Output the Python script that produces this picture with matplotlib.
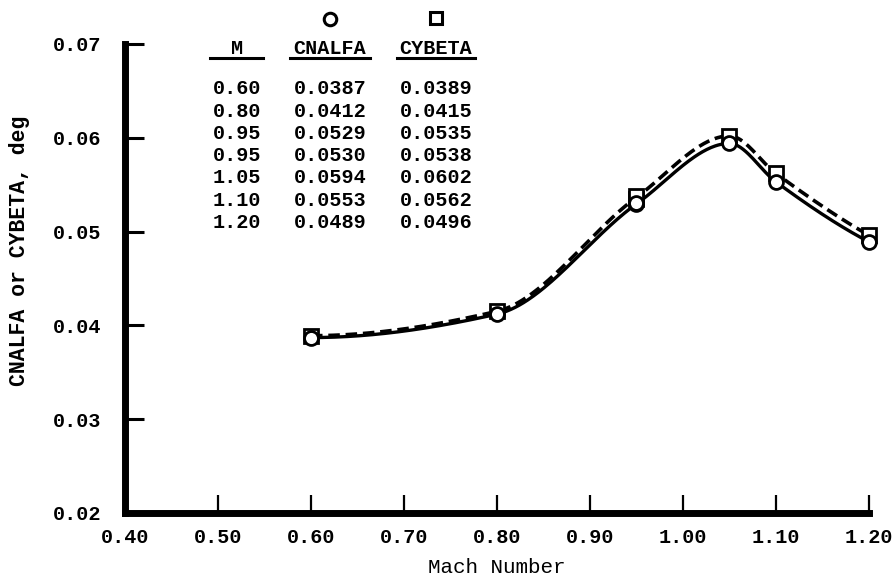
import matplotlib.pyplot as plt
import numpy as np
from matplotlib.lines import Line2D

# Tabulated data
mach = [0.60, 0.80, 0.95, 0.95, 1.05, 1.10, 1.20]
cnalfa = [0.0387, 0.0412, 0.0529, 0.0530, 0.0594, 0.0553, 0.0489]
cybeta = [0.0389, 0.0415, 0.0535, 0.0538, 0.0602, 0.0562, 0.0496]

x_ticks = [0.40, 0.50, 0.60, 0.70, 0.80, 0.90, 1.00, 1.10, 1.20]
y_ticks = [0.02, 0.03, 0.04, 0.05, 0.06, 0.07]


def end_slope(h0, h1, d0, d1):
    m = ((2 * h0 + h1) * d0 - h0 * d1) / (h0 + h1)
    if np.sign(m) != np.sign(d0):
        m = 0.0
    elif np.sign(d0) != np.sign(d1) and abs(m) > abs(3 * d0):
        m = 3 * d0
    return m


def pchip(x, y, n=400):
    # smooth monotone cubic through the measured points (duplicates averaged)
    x = np.asarray(x)
    y = np.asarray(y)
    xs = np.unique(x)
    ys = np.array([y[x == v].mean() for v in xs])
    h = np.diff(xs)
    d = np.diff(ys) / h
    m = np.zeros_like(ys)
    for k in range(1, len(xs) - 1):
        if d[k - 1] * d[k] > 0:
            w1 = 2 * h[k] + h[k - 1]
            w2 = h[k] + 2 * h[k - 1]
            m[k] = (w1 + w2) / (w1 / d[k - 1] + w2 / d[k])
    m[0] = end_slope(h[0], h[1], d[0], d[1])
    m[-1] = end_slope(h[-1], h[-2], d[-1], d[-2])
    xf = np.linspace(xs[0], xs[-1], n)
    idx = np.clip(np.searchsorted(xs, xf) - 1, 0, len(h) - 1)
    t = (xf - xs[idx]) / h[idx]
    h00 = 2 * t**3 - 3 * t**2 + 1
    h10 = t**3 - 2 * t**2 + t
    h01 = -2 * t**3 + 3 * t**2
    h11 = t**3 - t**2
    yf = h00 * ys[idx] + h10 * h[idx] * m[idx] + h01 * ys[idx + 1] + h11 * h[idx] * m[idx + 1]
    return xf, yf


mono = 'Liberation Mono'
fs = 14.5
fig = plt.figure(figsize=(8.94, 5.82), dpi=100)
ax = fig.add_axes([0.1398, 0.1186, 0.8322, 0.8058])

xs, ys = pchip(mach, cybeta)
ax.plot(xs, ys, color='black', lw=2.6, ls=(0, (3.2, 1.6)), clip_on=False)
xs, ys = pchip(mach, cnalfa)
ax.plot(xs, ys, color='black', lw=2.4, clip_on=False)

ax.plot(mach, cybeta, ls='none', marker='s', ms=9.5, mfc='white', mec='black', mew=2.0, clip_on=False)
ax.plot(mach, cnalfa, ls='none', marker='o', ms=10, mfc='white', mec='black', mew=2.0, clip_on=False)

ax.set_xlim(0.40, 1.20)
ax.set_ylim(0.02, 0.07)
ax.set_xticks(x_ticks)
ax.set_xticklabels(['%.2f' % v for v in x_ticks])
ax.set_yticks(y_ticks)
ax.set_yticklabels(['%.2f' % v for v in y_ticks])

for s in ['top', 'right']:
    ax.spines[s].set_visible(False)
for s in ['left', 'bottom']:
    ax.spines[s].set_linewidth(5)
    ax.spines[s].set_capstyle('projecting')

ax.tick_params(axis='y', direction='in', length=14, width=2.2, pad=17)
ax.tick_params(axis='x', direction='in', length=13, width=1.6, pad=11)
for lab in ax.get_xticklabels() + ax.get_yticklabels():
    lab.set_fontfamily(mono)
    lab.set_fontweight('bold')
    lab.set_fontsize(fs)

ax.set_xlabel('Mach Number', fontfamily=mono, fontsize=15)
ax.xaxis.set_label_coords(0.5, -0.096)
ax.set_ylabel('CNALFA or CYBETA, deg', fontfamily=mono, fontweight='bold', fontsize=15.5)
ax.yaxis.set_label_coords(-0.128, 0.56)

# data table in the upper left
W, H = 894.0, 582.0
col_x = [237, 330, 436]
for cx, head in zip(col_x, ['M', 'CNALFA', 'CYBETA']):
    fig.text(cx / W, 1 - 49 / H, head, ha='center', va='center', fontfamily=mono, fontweight='bold', fontsize=fs)
for (x0, x1) in [(210, 263), (290, 370), (397, 475)]:
    fig.add_artist(Line2D([x0 / W, x1 / W], [1 - 58 / H, 1 - 58 / H], color='black', lw=2.2))
fig.add_artist(Line2D([col_x[1] / W], [1 - 19 / H], marker='o', ms=9, mfc='white', mec='black', mew=2.2))
fig.add_artist(Line2D([col_x[2] / W], [1 - 18 / H], marker='s', ms=8.5, mfc='white', mec='black', mew=2.2))

for i in range(len(mach)):
    yy = 1 - (89 + 22.2 * i) / H
    fig.text(col_x[0] / W, yy, '%.2f' % mach[i], ha='center', va='center', fontfamily=mono, fontweight='bold', fontsize=fs)
    fig.text(col_x[1] / W, yy, '%.4f' % cnalfa[i], ha='center', va='center', fontfamily=mono, fontweight='bold', fontsize=fs)
    fig.text(col_x[2] / W, yy, '%.4f' % cybeta[i], ha='center', va='center', fontfamily=mono, fontweight='bold', fontsize=fs)

fig.savefig('out.png', dpi=100)
